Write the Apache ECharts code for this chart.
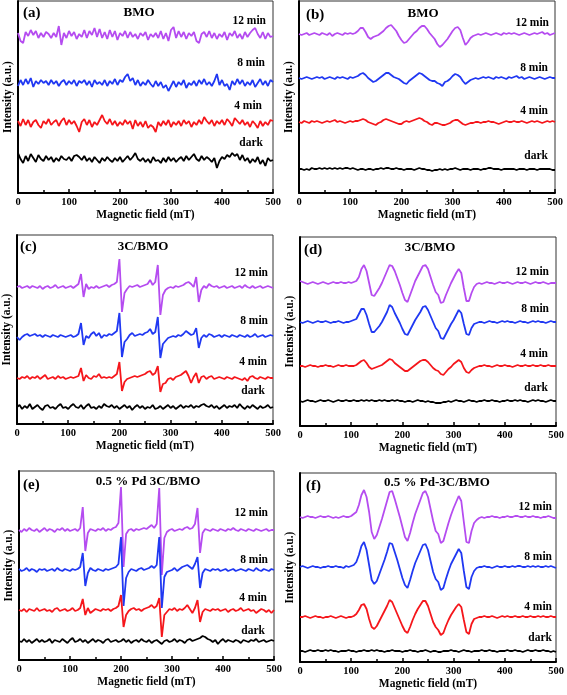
<!DOCTYPE html>
<html><head><meta charset="utf-8">
<script src="https://cdn.jsdelivr.net/npm/echarts@6/dist/echarts.min.js"></script>
<style>html,body{margin:0;padding:0;background:#fff}#c{width:567px;height:695px}</style>
</head><body><div id="c"></div>
<script>
// Magnetic field sample positions (mT)
const X = [0,5,10,15,20,25,30,35,40,45,50,55,60,65,70,75,80,85,90,95,
100,105,110,115,120,125,130,135,140,145,150,155,160,165,170,175,180,185,190,195,
200,205,210,215,220,225,230,235,240,245,250,255,260,265,270,275,280,285,290,295,
300,305,310,315,320,325,330,335,340,345,350,355,360,365,370,375,380,385,390,395,
400,405,410,415,420,425,430,435,440,445,450,455,460,465,470,475,480,485,490,495,500];
const X_TICKS = [0,100,200,300,400,500];
const SERIES_NAMES = ['12 min','8 min','4 min','dark'];
const PANEL_TAGS = ['(a)','(b)','(c)','(d)','(e)','(f)'];
const PANEL_TITLES = ['BMO','BMO','3C/BMO','3C/BMO','0.5 % Pd 3C/BMO','0.5 % Pd-3C/BMO'];
// vertical offsets of the stacked traces (a.u.), 12 min, 8 min, 4 min, dark
const OFF_A = [158,110,70,34];
const OFF_B = [159,115,71,24];
const OFF_C = [137,88,46,17];
const OFF_D = [143,104,60,25];
const OFF_E = [130,90,50,19];
const OFF_F = [145,95,45,11];
const Y_MAX = [192,192,189,189,189,189];

// (a) BMO
const A12 = [2,-6,-8,3,-1,5,0,4,-3,2, -2,3,1,-3,2,-2,9,-10,2,-3, 4,-1,3,-4,1,-2,5,-3,4,0, 7,-2,6,-3,3,-4,5,-2,4,-5,
 2,-1,4,-3,3,-2,1,-4,2,-1, 3,-5,1,-2,2,-3,4,-4,2,-6, 5,8,-3,4,-2,3,-4,2,-1,3, -6,-8,1,3,-2,4,-3,2,-4,1,
 -2,3,-5,2,-1,4,-3,1,-4,3, -2,2,5,7,1,-3,3,-4,2,-2, -1];
const A8 = [-3,3,-2,4,-1,5,-4,2,-1,3, 0,2,-2,3,-1,2,-3,1,3,-2, 2,-1,3,-3,2,0,3,-2,2,-4, 3,-1,1,-2,3,-3,2,-1,4,-2,
 3,1,6,9,2,5,-2,3,-3,1, -2,3,-1,-4,2,-3,1,-5,-2,-8, -3,2,-4,1,-2,3,-5,0,-2,2, -3,3,-1,4,-2,1,-3,2,9,-2,
 3,-3,-1,-7,2,-2,4,-1,3,-3, 1,-2,3,-4,0,4,-2,2,-3,3, 1];
const A4 = [2,-3,4,-2,3,-4,1,3,-2,-5, 2,-1,4,-2,1,3,-3,2,5,-2, 3,-1,2,-3,-9,1,4,-2,3,-4, 1,-2,3,8,2,-1,4,-2,2,-3,
 1,-2,3,-1,2,-6,3,-3,1,-4, 2,-5,-2,-4,-9,1,-3,2,-2,3, -4,1,-2,2,-3,3,-1,2,-4,1, -2,3,-1,6,2,-1,3,-3,2,-1,
 3,-2,4,1,-3,5,2,-1,3,-2, 1,-4,2,-1,-5,2,-3,1,-2,3, 2];
const A0 = [6,0,-4,3,-2,5,1,-3,4,0, -2,3,-1,2,-3,1,-2,3,0,-1, 2,-2,3,4,2,-1,3,-2,1,-3, 2,-1,-4,1,-2,2,-1,-3,1,-2,
 2,-3,0,3,-1,2,6,0,-2,1, -3,0,-4,2,-2,-1,-4,1,-3,2, -2,1,-3,0,2,-2,3,-1,2,5, 0,-2,3,-1,2,0,-3,1,-9,-2,
 2,0,4,2,6,3,5,-1,4,-2, 1,-4,0,-3,2,-5,-1,-7,1,-2, -1];
// (b) BMO
const B12 = [0,-1,0,1,-1,0,1,0,-1,1, 0,-1,1,-2,0,1,0,-1,1,0, 1,0,1,3,6,6,2,-3,-5,-3, -2,-1,1,3,6,8,9,6,3,-2,
 -6,-9,-8,-5,-2,1,3,6,8,8, 5,1,-2,-5,-10,-13,-11,-8,-5,-1, 3,6,7,4,-4,-11,-8,-4,-2,-1, 0,-1,0,1,0,-1,0,1,0,-1,
 1,0,1,0,1,0,-1,0,1,0, -1,0,1,0,1,2,0,1,-1,0, 1];
const B8 = [0,-1,0,1,0,-1,0,1,0,1, -1,0,1,0,-1,1,0,1,0,-1, 1,0,1,2,4,5,3,0,-2,-4, -3,-1,1,3,5,5,3,1,0,-1,
 -3,-5,-6,-3,-1,1,3,5,4,2, 0,-2,-3,-3,-5,-6,-8,-4,-3,-1, 2,4,3,1,-3,-6,-4,-2,-1,0, -1,0,1,0,1,0,-1,1,0,1,
 0,-1,1,0,1,2,0,1,-1,0, 1,0,-1,0,1,0,-1,0,1,0, 0];
const B4 = [0,-1,1,0,-1,1,0,1,0,-1, 0,1,0,1,2,0,1,0,-1,0, 1,0,1,1,2,3,2,0,-1,-2, -3,-1,0,2,3,2,1,0,-1,-2,
 -2,0,1,0,1,2,3,4,3,1, 0,-2,-3,-1,-1,-2,-3,-3,-2,-1, 1,2,2,0,-2,-3,-2,-1,-1,0, 0,-1,0,0,1,0,0,-1,-2,-1,
 0,1,0,0,1,0,0,1,0,-1, 0,1,0,1,0,-1,0,1,0,1, 0];
const B0 = [0,0,-1,0,-1,1,0,0,1,0, 1,0,1,0,1,0,1,0,1,1, 0,1,0,-1,0,0,-1,0,0,-1, 0,0,1,0,1,1,0,0,1,0,
 0,-1,0,0,0,-1,0,1,0,0, -1,-1,-2,-1,-1,0,-1,0,-1,0, 0,1,0,-1,0,0,0,-1,0,0, 0,-1,0,0,1,1,0,0,0,-1,
 0,0,0,0,0,-1,0,0,0,-1, 0,0,0,-1,0,0,0,0,0,-1, -1];
// (c) 3C/BMO
const C12 = [0,1,-1,0,1,-1,1,0,-1,1, -2,0,1,-1,0,2,-1,0,1,-1, 0,1,-1,1,3,13,-10,3,-2,0, -1,1,-1,0,1,2,0,2,3,5,
 28,-25,-6,-2,1,0,1,2,0,1, 2,3,7,2,5,22,-28,-8,-3,-1, 0,-1,1,0,1,2,4,5,3,0, 10,-15,-3,1,-1,3,1,0,1,-1,
 0,1,-1,0,1,-1,0,1,-1,2, 0,-1,1,-1,0,1,-1,0,1,0, -1];
const C8 = [-1,-4,-1,1,2,0,1,2,0,1, -1,1,0,-1,1,0,-1,1,0,-1, 0,1,-1,0,2,13,-9,0,-2,2, 4,0,3,-2,1,0,2,1,3,5,
 23,-21,-6,-3,1,3,0,1,2,1, 3,4,7,2,4,19,-22,-8,-5,-2, -1,0,-1,1,0,2,5,3,1,2, 8,-12,-2,1,-1,2,1,-1,0,1,
 -1,1,0,-1,1,0,-1,1,0,-1, 1,-1,0,2,-1,0,1,-1,0,1, 0];
const C4 = [0,-1,1,0,2,-1,1,0,2,-1, 1,3,-1,0,1,-1,2,0,1,-1, 0,1,0,1,2,10,-3,3,0,-1, 2,1,4,0,1,0,1,0,2,4,
 16,-13,-4,-1,0,1,2,1,2,3, 4,6,7,3,5,12,-14,-6,-5,-1, 0,-2,1,2,3,5,7,2,-5,1, 5,-5,1,2,-1,1,2,-1,0,1,
 0,-1,1,0,-1,1,0,-1,-2,0, -3,1,2,0,-1,1,0,-1,1,0, 0];
const C0 = [0,2,-2,1,-1,3,-2,0,2,-1, -3,1,2,-1,0,-2,1,3,-1,0, -2,1,3,0,-1,2,-2,1,3,-1, 0,-2,1,-1,3,1,0,2,-1,1,
 -2,0,2,-1,1,-3,0,2,-1,1, -2,0,-1,2,-2,-1,1,-2,0,2, -1,1,-2,0,2,-1,1,0,2,-1, 1,0,2,3,1,0,2,-1,1,-2,
 0,2,-1,1,0,2,-1,3,0,-2, 1,-1,2,0,-2,1,-1,0,2,-1, 0];
// (d) 3C/BMO
const D12 = [2,1,0,-1,0,1,0,-1,0,1, 0,-1,0,1,0,0,1,0,0,1, 0,1,2,6,14,18,12,0,-12,-13, -9,-5,0,6,12,18,17,12,5,-2,
 -10,-17,-19,-12,-5,2,7,12,17,18, 14,6,-2,-9,-12,-20,-19,-12,-6,0, 5,10,14,10,-5,-18,-18,-10,-4,-1, 0,-1,0,1,0,0,-1,0,1,0,
 0,1,0,-1,0,1,0,0,1,0, -1,0,1,0,0,1,0,-1,0,0, 0];
const D8 = [0,-1,0,1,0,-1,0,1,0,0, 1,0,-1,0,0,1,0,-1,0,0, 1,2,3,8,13,13,7,-2,-10,-10, -7,-4,0,5,10,17,15,9,4,-1,
 -7,-12,-13,-8,-3,2,6,10,15,16, 12,6,0,-6,-9,-16,-17,-12,-7,-2, 2,7,12,9,-2,-12,-13,-6,-2,-1, 0,0,-1,0,1,0,0,-1,0,1,
 0,1,0,0,-1,0,1,0,0,-1, 0,1,0,1,0,0,-1,0,1,0, 0];
const D4 = [0,0,-1,0,1,0,0,-1,0,0, 1,0,0,-1,0,1,0,0,1,0, 0,0,1,3,5,6,3,-1,-3,-2, -1,0,1,3,5,7,6,3,1,-1,
 -3,-5,-5,-3,-1,1,3,5,6,6, 4,1,-2,-4,-5,-8,-9,-6,-3,-1, 2,4,6,4,-2,-6,-7,-4,-2,-1, 0,0,1,0,0,-1,0,1,0,0,
 1,0,0,-1,0,1,0,0,1,0, 0,1,0,0,1,0,0,1,0,0, 0];
const D0 = [0,-1,0,1,0,0,-1,0,1,0, 0,1,0,-1,0,1,0,0,1,0, 0,1,0,0,1,0,1,0,1,0, 0,1,0,1,0,0,1,0,1,0,
 0,-1,0,0,-1,0,1,0,0,-1, 0,-1,-1,-2,-2,-2,-1,-1,0,-1, 0,1,0,0,-1,0,1,0,0,-1, 0,0,1,0,0,1,0,0,-1,0,
 0,1,0,0,1,0,1,0,0,-1, 0,1,0,1,0,0,-1,0,1,0, 0];
// (e) 0.5 % Pd 3C/BMO
const E12 = [0,-2,1,-1,2,0,-1,1,-2,0, 2,-1,1,0,-2,1,0,2,-1,1, -1,0,1,-1,2,23,-21,-3,1,0, -1,1,0,2,-1,1,0,2,3,7,
 43,-37,-4,0,1,-1,1,0,1,2, 1,3,5,2,6,42,-45,-8,-2,0, 1,-1,0,1,0,2,3,1,2,6, 22,-23,-3,1,0,-1,1,0,-1,1,
 0,-1,1,0,2,0,-1,1,0,-1, 1,0,-1,1,0,-1,0,1,-1,0, 0];
const E8 = [1,-1,0,2,-1,1,0,-2,1,0, 1,-1,0,1,-1,2,0,-1,1,0, -1,1,0,1,3,17,-16,-3,2,0, -1,1,0,-1,1,0,1,2,3,6,
 33,-36,-8,-2,1,0,-1,1,2,0, 1,2,4,2,5,33,-38,-7,-2,-1, 0,2,-1,1,3,4,5,3,1,6, 13,-18,-3,1,0,-1,1,0,1,-1,
 0,1,-1,0,1,-1,0,1,0,-1, 1,0,-1,2,0,-1,1,0,-1,1, 0];
const E4 = [0,-1,1,-2,1,0,-1,2,-1,0, 1,-1,0,-2,1,2,-1,0,1,-1, 0,2,-1,0,2,11,-5,2,-3,-1, 1,0,-1,1,0,1,-1,1,2,4,
 15,-17,-5,-1,1,2,0,1,-1,1, 2,3,5,2,4,12,-27,-5,-2,1, 0,2,-1,1,0,2,5,1,-3,2, 10,-12,-2,1,0,-1,1,0,1,-1,
 0,1,-2,0,1,-1,0,2,-1,0, 1,-1,0,-3,-1,1,0,-2,0,-3, 0];
const E0 = [0,-1,2,-1,1,-2,0,2,-1,1, -1,0,2,-2,1,0,-1,2,0,-2, 1,3,-1,0,2,-1,1,-2,0,2, -1,1,0,-2,1,2,-1,0,1,-1,
 0,2,-1,1,-2,0,1,-1,2,0, -1,1,-2,0,1,-1,-3,0,1,-1, 0,2,-1,1,0,-2,1,2,0,1, 2,3,5,4,2,1,-1,1,-3,0,
 2,-1,1,0,-1,1,0,-2,1,0, -1,1,0,2,-1,0,1,-1,0,1, 0];
// (f) 0.5 % Pd-3C/BMO
const F12 = [0,-1,0,1,0,0,-1,0,1,0, 0,1,0,-1,0,-1,0,1,0,0, 1,3,5,12,22,27,20,5,-15,-22, -18,-10,-2,7,16,25,26,18,9,0,
 -10,-20,-24,-16,-6,3,10,17,24,26, 20,8,-4,-14,-17,-26,-24,-15,-6,2, 9,15,21,16,-5,-25,-26,-14,-6,-3, -1,0,-1,0,0,1,0,0,-1,0,
 0,1,0,0,1,1,0,0,1,0, 0,1,0,0,-1,0,0,1,0,-1, -1];
const F8 = [0,1,0,-1,0,1,0,0,-1,0, 0,1,0,0,1,0,0,-1,1,0, 1,2,5,12,21,25,17,2,-13,-17, -14,-7,0,7,15,24,23,15,7,-2,
 -11,-18,-21,-13,-4,4,10,16,22,23, 17,6,-5,-12,-15,-23,-21,-12,-4,3, 8,13,18,14,-4,-20,-22,-10,-4,-1, 0,0,1,0,0,-1,0,1,0,0,
 1,0,0,1,0,1,1,0,0,1, 0,1,0,1,0,0,1,0,1,0, -1];
const F4 = [0,0,1,0,-1,0,1,0,0,-1, 0,0,1,0,-1,0,1,0,-1,0, 0,1,3,7,12,13,8,-2,-10,-12, -9,-4,1,6,11,17,15,9,3,-3,
 -9,-14,-16,-10,-3,3,8,12,16,16, 11,3,-5,-10,-13,-18,-16,-9,-3,2, 6,10,13,10,-3,-15,-17,-7,-2,-1, 0,0,1,0,0,1,0,-1,0,1,
 0,1,0,0,1,0,0,1,0,0, 1,0,0,1,0,1,0,0,1,0, 0];
const F0 = [0,0,-1,0,1,0,0,1,0,0, 1,0,1,0,0,-1,0,0,0,1, 0,0,-1,0,0,1,0,0,1,0, 1,0,0,-1,0,0,1,0,0,0,
 -1,0,0,1,0,0,-1,0,0,1, 0,-1,0,0,-1,-1,0,0,0,1, 0,0,-1,0,1,0,0,-1,0,0, 0,1,0,0,1,0,0,-1,0,0,
 0,1,0,0,1,0,0,-1,0,1, 0,0,1,0,0,1,0,0,-1,0, -1];

const PANEL_SERIES = [[A12,A8,A4,A0],[B12,B8,B4,B0],[C12,C8,C4,C0],[D12,D8,D4,D0],[E12,E8,E4,E0],[F12,F8,F4,F0]];
const PANEL_OFFSETS = [OFF_A,OFF_B,OFF_C,OFF_D,OFF_E,OFF_F];

// ---- layout / style ----
const FONT = '"Liberation Serif","Times New Roman",serif';
const COLORS = ['#b54cf0','#2038f2','#f5161b','#000000'];
const GRIDS = [
  {left:18, top:1, width:255, height:192},
  {left:299, top:1, width:256, height:192},
  {left:16, top:235, width:257, height:189},
  {left:300, top:237, width:256, height:189},
  {left:19, top:471, width:255, height:189},
  {left:300, top:473, width:256, height:189}
];
const TAG_POS = [[23,13],[306,15],[20,247],[304,250],[23,485],[306,486]];
const TITLE_POS = [[139,13],[423,14],[143,247],[430,248],[148,482],[437,483]];
const LABEL_POS = [
  [[266,21],[265,63],[262,106],[263,143]],
  [[549,23],[548,68],[548,111],[548,156]],
  [[268,273],[268,321],[267,362],[265,391]],
  [[549,272],[549,309],[548,354],[548,388]],
  [[268,513],[268,560],[267,598],[265,631]],
  [[552,507],[552,557],[552,607],[552,638]]
];

const grid = [], xAxis = [], yAxis = [], series = [], graphic = [];
GRIDS.forEach((g, p) => {
  grid.push(Object.assign({show:true, borderColor:'#333', borderWidth:1, containLabel:false}, g));
  xAxis.push({
    type:'value', gridIndex:p, min:X_TICKS[0], max:X_TICKS[X_TICKS.length-1], interval:X_TICKS[1]-X_TICKS[0],
    name:'Magnetic field (mT)', nameLocation:'middle', nameGap:15,
    nameTextStyle:{fontFamily:FONT, fontWeight:'bold', fontSize:11.5, color:'#000'},
    axisLine:{show:true, onZero:false, lineStyle:{color:'#000', width:2}},
    axisTick:{show:true, inside:true, length:4, lineStyle:{color:'#000', width:1.5}},
    minorTick:{show:true, splitNumber:2, length:3, lineStyle:{color:'#000', width:1.5}},
    splitLine:{show:false},
    axisLabel:{fontFamily:FONT, fontWeight:'bold', fontSize:10.5, color:'#000', margin:4}
  });
  yAxis.push({
    type:'value', gridIndex:p, min:0, max:Y_MAX[p],
    name:'Intensity (a.u.)', nameLocation:'middle', nameGap:4,
    nameTextStyle:{fontFamily:FONT, fontWeight:'bold', fontSize:11.5, color:'#000'},
    axisLine:{show:true, onZero:false, lineStyle:{color:'#000', width:2}},
    axisTick:{show:false}, axisLabel:{show:false}, splitLine:{show:false}
  });
  PANEL_SERIES[p].forEach((dev, k) => {
    const off = PANEL_OFFSETS[p][k];
    series.push({
      type:'line', xAxisIndex:p, yAxisIndex:p, name:SERIES_NAMES[k],
      data: X.map((x, i) => [x, off + dev[i]]),
      showSymbol:false, symbol:'none', smooth:false, silent:true,
      lineStyle:{color:COLORS[k], width:1.8}, itemStyle:{color:COLORS[k]}
    });
    graphic.push({type:'text', x:LABEL_POS[p][k][0], y:LABEL_POS[p][k][1],
      style:{text:SERIES_NAMES[k], align:'right', verticalAlign:'middle', fill:'#000',
        font:'bold 11.5px ' + FONT}});
  });
  graphic.push({type:'text', x:TAG_POS[p][0], y:TAG_POS[p][1],
    style:{text:PANEL_TAGS[p], align:'left', verticalAlign:'middle', fill:'#000', font:'bold 15px ' + FONT}});
  graphic.push({type:'text', x:TITLE_POS[p][0], y:TITLE_POS[p][1],
    style:{text:PANEL_TITLES[p], align:'center', verticalAlign:'middle', fill:'#000', font:'bold 13px ' + FONT}});
});

const chart = echarts.init(document.getElementById('c'), null, {renderer:'canvas'});
chart.setOption({animation:false, backgroundColor:'#fff', grid, xAxis, yAxis, series, graphic});
</script></body></html>
